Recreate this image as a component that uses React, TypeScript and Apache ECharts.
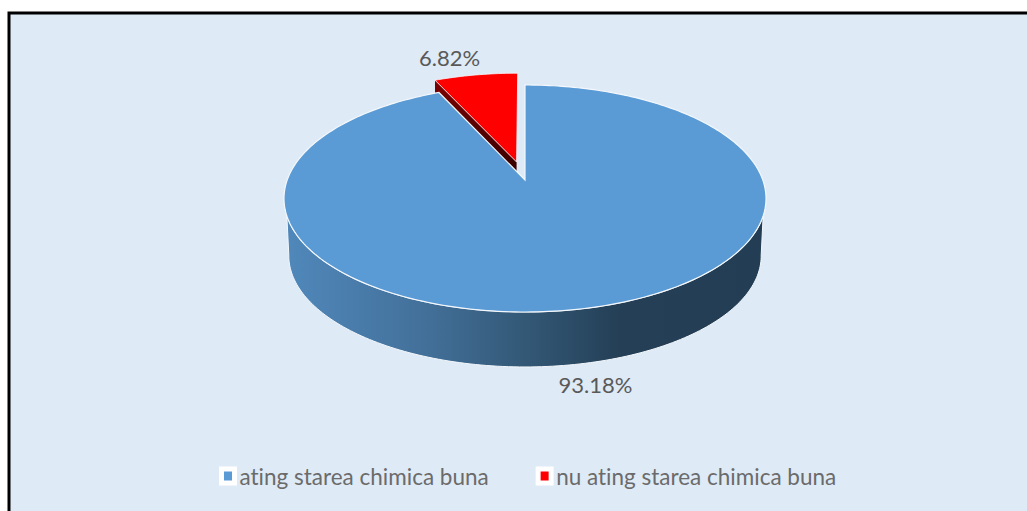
import React, { useEffect, useRef } from "react";
import * as echarts from "echarts";

const categories = ["ating starea chimica buna", "nu ating starea chimica buna"];
const values = [93.18, 6.82];
const sliceColors = ["#5b9bd5", "#ff0000"];
const valueLabels = ["93.18%", "6.82%"];

const total = values.reduce((a, b) => a + b, 0);
const CX = 525;
const APEX_Y = 180;
const R = 237.8;
const HR = 110.5;
const D = 6.14;
const DEPTH = 55;

function project(wx: number, wy: number, scale = 1, yOffset = 0) {
  const s = D / (D + wy);
  return [CX + wx * R * s * scale, APEX_Y - wy * HR * s * scale + yOffset];
}

function rim(a0: number, a1: number, radius = 1, ox = 0, oy = 0, scale = 1, yOffset = 0) {
  const pts: number[][] = [];
  const n = Math.max(2, Math.ceil(Math.abs(a1 - a0) / 0.02));
  for (let i = 0; i <= n; i++) {
    const a = a0 + ((a1 - a0) * i) / n;
    pts.push(project(Math.sin(a) * radius + ox, Math.cos(a) * radius + oy, scale, yOffset));
  }
  return pts;
}

const renderBlue = (_p: any, api: any) => {
  const frac = api.value(0) / total;
  const a1 = frac * Math.PI * 2;
  const apex = project(0, 0);
  const top = rim(0, a1);
  const frontTop = rim(Math.PI * 0.6, Math.PI * 1.4);
  const frontBottom = rim(Math.PI * 0.55, Math.PI * 1.45, 1, 0, 0, 0.98, 57.6).reverse();
  return {
    type: "group",
    children: [
      {
        type: "polygon",
        shape: { points: [...frontTop, ...frontBottom] },
        style: {
          fill: new echarts.graphic.LinearGradient(0, 0, 1, 0, [
            { offset: 0, color: "#5088bb" },
            { offset: 0.3, color: "#426f98" },
            { offset: 0.5, color: "#335876" },
            { offset: 0.7, color: "#243f56" },
            { offset: 1, color: "#233e54" },
          ]),
          stroke: "#f4f8fc",
          lineWidth: 1,
        },
      },
      {
        type: "polygon",
        shape: { points: [apex, ...top] },
        style: { fill: sliceColors[0], stroke: "#f4f8fc", lineWidth: 1.2 },
      },
      {
        type: "text",
        style: {
          text: valueLabels[0],
          x: 595.5,
          y: 384.5,
          align: "center",
          verticalAlign: "middle",
          fill: "#595959",
          font: "22px Lato",
        },
      },
    ],
  };
};

const renderRed = (_p: any, api: any) => {
  const frac = api.value(0) / total;
  const span = frac * Math.PI * 2;
  const mid = -span / 2;
  const e = 0.171;
  const ox = Math.sin(mid) * e;
  const oy = Math.cos(mid) * e;
  const apex = project(ox, oy);
  const top = rim(-span, 0, 0.98, ox, oy);
  const leftEnd = top[0];
  const wall = [
    apex,
    leftEnd,
    [leftEnd[0], leftEnd[1] + DEPTH],
    [apex[0], apex[1] + DEPTH],
  ];
  return {
    type: "group",
    children: [
      {
        type: "polygon",
        shape: { points: wall },
        style: {
          fill: new echarts.graphic.LinearGradient(0, 0, 1, 0, [
            { offset: 0, color: "#7a0000" },
            { offset: 1, color: "#3a0000" },
          ]),
        },
      },
      {
        type: "polygon",
        shape: { points: [apex, ...top] },
        style: { fill: sliceColors[1], stroke: "#f4f8fc", lineWidth: 0.8 },
      },
      {
        type: "text",
        style: {
          text: valueLabels[1],
          x: 449.5,
          y: 57.5,
          align: "center",
          verticalAlign: "middle",
          fill: "#595959",
          font: "22px Lato",
        },
      },
    ],
  };
};

export default function App() {
  const ref = useRef<HTMLDivElement>(null);
  useEffect(() => {
    document.body.style.margin = "0";
    const chart = echarts.init(ref.current!, null, { renderer: "svg" });
    chart.setOption({
      animation: false,
      backgroundColor: "#ffffff",
      graphic: [
        {
          type: "rect",
          z: -10,
          shape: { x: 9, y: 13, width: 1030, height: 510 },
          style: { fill: "#deeaf6", stroke: "#000000", lineWidth: 3 },
        },
      ],
      legend: {
        data: categories,
        left: 214,
        top: 459.5,
        itemWidth: 13,
        itemHeight: 14,
        itemGap: 46.5,
        icon: "rect",
        itemStyle: { borderColor: "#ffffff", borderWidth: 5 },
        textStyle: { color: "#6b6b6b", fontSize: 22.5, fontFamily: "Lato" },
      },
      series: [
        {
          type: "custom",
          name: categories[1],
          coordinateSystem: "none",
          renderItem: renderRed,
          data: [[values[1]]],
          itemStyle: { color: sliceColors[1] },
          z: 2,
          silent: true,
        },
        {
          type: "custom",
          name: categories[0],
          coordinateSystem: "none",
          renderItem: renderBlue,
          data: [[values[0]]],
          itemStyle: { color: sliceColors[0] },
          z: 3,
          silent: true,
        },
      ],
    });
    return () => chart.dispose();
  }, []);
  return <div ref={ref} style={{ width: 1027, height: 511, fontVariantLigatures: "none" }} />;
}
